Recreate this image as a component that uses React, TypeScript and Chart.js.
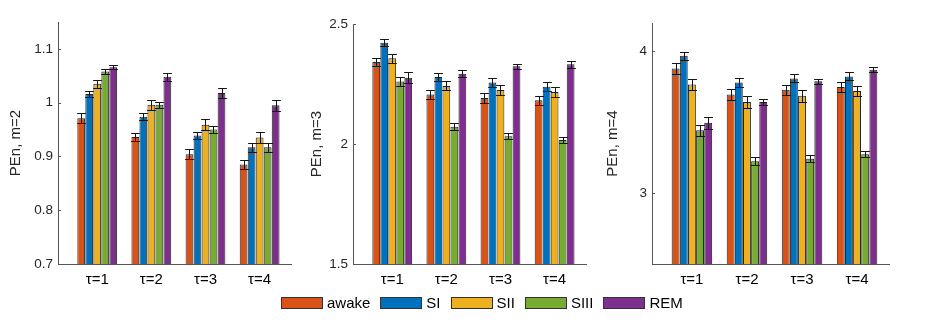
import React, { useEffect, useRef } from "react";
import { Chart, registerables } from "chart.js";

Chart.register(...registerables);

// ---------- data ----------
const categories = ["τ=1", "τ=2", "τ=3", "τ=4"];
const xPositions = [1, 2, 3, 4];
const seriesNames = ["awake", "SI", "SII", "SIII", "REM"];
const seriesColors = ["#D95319", "#0072BD", "#EDB120", "#77AC30", "#7E2F8E"];

// PEn, m=2
const m2Awake = [0.971, 0.936, 0.904, 0.885];
const m2SI = [1.016, 0.974, 0.939, 0.917];
const m2SII = [1.035, 0.996, 0.959, 0.935];
const m2SIII = [1.058, 0.996, 0.95, 0.917];
const m2REM = [1.066, 1.048, 1.018, 0.995];
const m2AwakeErr = [0.009, 0.008, 0.009, 0.008];
const m2SIErr = [0.006, 0.007, 0.007, 0.008];
const m2SIIErr = [0.008, 0.009, 0.01, 0.01];
const m2SIIIErr = [0.004, 0.006, 0.007, 0.008];
const m2REMErr = [0.004, 0.008, 0.01, 0.01];
const m2Ticks = [0.7, 0.8, 0.9, 1.0, 1.1];

// PEn, m=3
const m3Awake = [2.342, 2.206, 2.192, 2.182];
const m3SI = [2.422, 2.279, 2.256, 2.239];
const m3SII = [2.357, 2.242, 2.225, 2.217];
const m3SIII = [2.26, 2.072, 2.032, 2.017];
const m3REM = [2.276, 2.293, 2.324, 2.332];
const m3AwakeErr = [0.016, 0.02, 0.02, 0.018];
const m3SIErr = [0.014, 0.018, 0.02, 0.018];
const m3SIIErr = [0.018, 0.019, 0.02, 0.02];
const m3SIIIErr = [0.018, 0.014, 0.012, 0.012];
const m3REMErr = [0.022, 0.014, 0.011, 0.015];
const m3Ticks = [1.5, 2, 2.5];

// PEn, m=4
const m4Awake = [3.879, 3.695, 3.73, 3.749];
const m4SI = [3.969, 3.78, 3.809, 3.823];
const m4SII = [3.766, 3.643, 3.686, 3.721];
const m4SIII = [3.444, 3.224, 3.243, 3.274];
const m4REM = [3.496, 3.643, 3.789, 3.87];
const m4AwakeErr = [0.04, 0.04, 0.036, 0.033];
const m4SIErr = [0.029, 0.033, 0.028, 0.028];
const m4SIIErr = [0.042, 0.04, 0.04, 0.038];
const m4SIIIErr = [0.04, 0.028, 0.024, 0.021];
const m4REMErr = [0.043, 0.024, 0.017, 0.017];
const m4Ticks = [3, 4];

// ---------- styling / layout ----------
const FONT = "'Liberation Sans', Arial, Helvetica, sans-serif";
const TEXT = "#262626";

type PanelCfg = {
  title: string;
  values: number[][];
  errors: number[][];
  yMin: number;
  yMax: number;
  yTicks: number[];
  left: number;
  width: number;
  height: number;
  padTop: number;
  padRight: number;
  yAxisWidth: number;
  titlePad: number;
};

const panels: PanelCfg[] = [
  {
    title: "PEn, m=2",
    values: [m2Awake, m2SI, m2SII, m2SIII, m2REM],
    errors: [m2AwakeErr, m2SIErr, m2SIIErr, m2SIIIErr, m2REMErr],
    yMin: 0.7,
    yMax: 1.15,
    yTicks: m2Ticks,
    left: 0,
    width: 300,
    height: 300,
    padTop: 22,
    padRight: 9,
    yAxisWidth: 58,
    titlePad: 7,
  },
  {
    title: "PEn, m=3",
    values: [m3Awake, m3SI, m3SII, m3SIII, m3REM],
    errors: [m3AwakeErr, m3SIErr, m3SIIErr, m3SIIIErr, m3REMErr],
    yMin: 1.5,
    yMax: 2.5,
    yTicks: m3Ticks,
    left: 300,
    width: 300,
    height: 300,
    padTop: 24,
    padRight: 14,
    yAxisWidth: 53,
    titlePad: 8,
  },
  {
    title: "PEn, m=4",
    values: [m4Awake, m4SI, m4SII, m4SIII, m4REM],
    errors: [m4AwakeErr, m4SIErr, m4SIIErr, m4SIIIErr, m4REMErr],
    yMin: 2.5,
    yMax: 4.2,
    yTicks: m4Ticks,
    left: 600,
    width: 326,
    height: 300,
    padTop: 23,
    padRight: 37,
    yAxisWidth: 52,
    titlePad: 4,
  },
];

const errorBarPlugin = {
  id: "errorBars",
  afterDatasetsDraw(chart: any) {
    const ctx = chart.ctx;
    const yScale = chart.scales.y;
    const area = chart.chartArea;
    ctx.save();
    ctx.beginPath();
    ctx.rect(area.left, area.top - 6, area.right - area.left, area.bottom - area.top + 6);
    ctx.clip();
    ctx.strokeStyle = "#151515";
    ctx.lineWidth = 1;
    chart.data.datasets.forEach((ds: any, i: number) => {
      const meta = chart.getDatasetMeta(i);
      meta.data.forEach((el: any, j: number) => {
        const v = ds.data[j].y;
        const e = ds.errors[j];
        const x = Math.round(el.x) + 0.5;
        const yt = Math.round(yScale.getPixelForValue(v + e)) + 0.5;
        const yb = Math.round(yScale.getPixelForValue(v - e)) + 0.5;
        const hw = el.width / 2 + 0.5;
        ctx.beginPath();
        ctx.moveTo(x, yt);
        ctx.lineTo(x, yb);
        ctx.moveTo(x - hw, yt);
        ctx.lineTo(x + hw, yt);
        ctx.moveTo(x - hw, yb);
        ctx.lineTo(x + hw, yb);
        ctx.stroke();
      });
    });
    ctx.restore();
    // inward y tick marks
    ctx.save();
    ctx.strokeStyle = "#555";
    ctx.lineWidth = 1;
    yScale.ticks.forEach((t: any) => {
      const py = Math.round(yScale.getPixelForValue(t.value)) + 0.5;
      ctx.beginPath();
      ctx.moveTo(area.left, py);
      ctx.lineTo(area.left + 3, py);
      ctx.stroke();
    });
    ctx.restore();
  },
};

function Panel({ cfg }: { cfg: PanelCfg }) {
  const ref = useRef<HTMLCanvasElement | null>(null);
  useEffect(() => {
    if (!ref.current) return;
    const chart = new Chart(ref.current, {
      type: "bar",
      data: {
        datasets: seriesNames.map((name, s) => ({
          label: name,
          data: xPositions.map((x, k) => ({ x, y: cfg.values[s][k] })),
          errors: cfg.errors[s],
          backgroundColor: seriesColors[s],
          borderColor: "#222",
          borderWidth: 1,
          categoryPercentage: 0.74,
          barPercentage: 0.97,
        })) as any,
      },
      options: {
        animation: false,
        responsive: false,
        maintainAspectRatio: false,
        layout: {
          padding: { left: 0, right: cfg.padRight, top: cfg.padTop, bottom: 6 },
        },
        plugins: {
          legend: { display: false },
          tooltip: { enabled: false },
        },
        scales: {
          x: {
            type: "linear",
            min: 0.275,
            max: 4.58,
            bounds: "data",
            offset: false,
            grid: { display: false, drawTicks: false, offset: false },
            border: { display: true, color: "#555", width: 1 },
            afterBuildTicks: (axis: any) => {
              axis.ticks = xPositions.map((v) => ({ value: v }));
            },
            afterFit: (axis: any) => {
              axis.height = 30;
            },
            ticks: {
              autoSkip: false,
              maxRotation: 0,
              padding: 7,
              color: "#000",
              font: { family: FONT, size: 15 },
              callback: (v: any) => {
                const idx = xPositions.indexOf(Number(v));
                return idx >= 0 ? categories[idx] : "";
              },
            },
          },
          y: {
            type: "linear",
            min: cfg.yMin,
            max: cfg.yMax,
            bounds: "data",
            grid: { display: false, drawTicks: false },
            border: { display: true, color: "#555", width: 1 },
            afterBuildTicks: (axis: any) => {
              axis.ticks = cfg.yTicks.map((v) => ({ value: v }));
            },
            afterFit: (axis: any) => {
              axis.width = cfg.yAxisWidth;
            },
            ticks: {
              padding: 5,
              color: TEXT,
              font: { family: FONT, size: 13.5 },
              callback: (v: any) => String(Math.round(Number(v) * 100) / 100),
            },
            title: {
              display: true,
              text: cfg.title,
              color: TEXT,
              padding: { top: cfg.titlePad, bottom: 0 },
              font: { family: FONT, size: 15 },
            },
          },
        },
      } as any,
      plugins: [errorBarPlugin],
    });
    return () => chart.destroy();
  }, [cfg]);
  return (
    <canvas
      ref={ref}
      width={cfg.width}
      height={cfg.height}
      style={{
        position: "absolute",
        left: cfg.left,
        top: 0,
        width: cfg.width,
        height: cfg.height,
      }}
    />
  );
}

export default function App() {
  return (
    <div
      style={{
        position: "absolute",
        left: 0,
        top: 0,
        width: 926,
        height: 322,
        background: "#fff",
        overflow: "hidden",
      }}
    >
      {panels.map((p) => (
        <Panel key={p.title} cfg={p} />
      ))}
      <div
        style={{
          position: "absolute",
          left: 281,
          top: 295,
          display: "flex",
          alignItems: "center",
          fontFamily: FONT,
          fontSize: 15,
          lineHeight: "16px",
          color: "#000",
          whiteSpace: "nowrap",
        }}
      >
        {seriesNames.map((n, i) => (
          <div key={n} style={{ display: "flex", alignItems: "center", marginRight: 10 }}>
            <span
              style={{
                display: "inline-block",
                width: 40,
                height: 10,
                background: seriesColors[i],
                border: "1px solid #333",
              }}
            />
            <span style={{ marginLeft: 4 }}>{n}</span>
          </div>
        ))}
      </div>
    </div>
  );
}
